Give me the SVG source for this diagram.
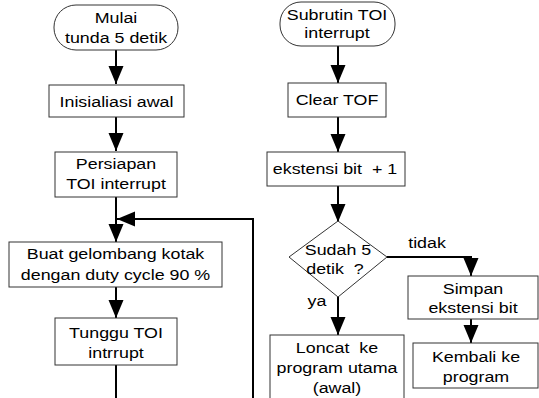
<svg xmlns="http://www.w3.org/2000/svg" width="539" height="398" viewBox="0 0 539 398">
<defs>
<style>
.box{fill:#fff;stroke:#333;stroke-width:1}
.t{font-family:"Liberation Sans",Arial,sans-serif;font-size:15px;fill:#000;text-anchor:middle}
.c{fill:none;stroke:#000;stroke-width:2}
.ah{fill:#000;stroke:none}
</style>
<marker id="arr" markerUnits="userSpaceOnUse" markerWidth="18" markerHeight="16" viewBox="0 0 18 16" refX="18" refY="8" orient="auto">
<path d="M0,0.5 L18,8 L0,15.5 Z" class="ah"/>
</marker>
</defs>
<rect width="539" height="398" fill="#fff"/>
<g id="connectors">
<path class="c" d="M116,50 V84" marker-end="url(#arr)"/>
<path class="c" d="M116,117 V151" marker-end="url(#arr)"/>
<path class="c" d="M116,197 V242" marker-end="url(#arr)"/>
<path class="c" d="M116,287 V318" marker-end="url(#arr)"/>
<path class="c" d="M116,365 V398"/>
<path class="c" d="M253,398 V219 H117" marker-end="url(#arr)"/>
<path class="c" d="M338,46 V83" marker-end="url(#arr)"/>
<path class="c" d="M338,117 V152" marker-end="url(#arr)"/>
<path class="c" d="M338,186 V222" marker-end="url(#arr)"/>
<path class="c" d="M387,257 H471 V276" marker-end="url(#arr)"/>
<path class="c" d="M471,319 V343" marker-end="url(#arr)"/>
<path class="c" d="M338,297 V335" marker-end="url(#arr)"/>
<text class="t" transform="translate(427,248) scale(1.19,1)">tidak</text>
<text class="t" transform="translate(317,306) scale(1.19,1)">ya</text>
</g>
<g id="mulai">
<rect class="box" x="54" y="5" width="124" height="45" rx="22" ry="22"/>
<text class="t" transform="translate(116,23) scale(1.19,1)">Mulai</text>
<text class="t" transform="translate(116,43) scale(1.19,1)">tunda 5 detik</text>
</g>
<g id="inisialisasi">
<rect class="box" x="49" y="85" width="135" height="32"/>
<text class="t" transform="translate(116.5,107) scale(1.19,1)">Inisialiasi awal</text>
</g>
<g id="persiapan">
<rect class="box" x="55" y="152" width="122" height="45"/>
<text class="t" transform="translate(116,169) scale(1.19,1)">Persiapan</text>
<text class="t" transform="translate(116,189) scale(1.19,1)">TOI interrupt</text>
</g>
<g id="buat">
<rect class="box" x="9" y="242" width="213" height="45"/>
<text class="t" transform="translate(115.5,259) scale(1.19,1)">Buat gelombang kotak</text>
<text class="t" transform="translate(115.5,280) scale(1.19,1)">dengan duty cycle 90 %</text>
</g>
<g id="tunggu">
<rect class="box" x="55" y="318" width="122" height="47"/>
<text class="t" transform="translate(116,338) scale(1.19,1)">Tunggu TOI</text>
<text class="t" transform="translate(116,358) scale(1.19,1)">intrrupt</text>
</g>
<g id="subrutin">
<rect class="box" x="280" y="2" width="115" height="44" rx="21" ry="21"/>
<text class="t" transform="translate(337,20) scale(1.19,1)">Subrutin TOI</text>
<text class="t" transform="translate(337,38) scale(1.19,1)">interrupt</text>
</g>
<g id="clear">
<rect class="box" x="288" y="83" width="98" height="34"/>
<text class="t" transform="translate(337,105) scale(1.19,1)">Clear TOF</text>
</g>
<g id="ekstensi">
<rect class="box" x="267" y="152" width="138" height="34"/>
<text class="t" transform="translate(335,174) scale(1.19,1)" xml:space="preserve">ekstensi bit  + 1</text>
</g>
<g id="sudah">
<polygon class="box" points="338,221 387,257 338,297 289,257"/>
<text class="t" transform="translate(338,255) scale(1.19,1)">Sudah 5</text>
<text class="t" transform="translate(335,274) scale(1.19,1)" xml:space="preserve">detik  ?</text>
</g>
<g id="simpan">
<rect class="box" x="408" y="276" width="130" height="43"/>
<text class="t" transform="translate(473,294) scale(1.19,1)">Simpan</text>
<text class="t" transform="translate(473,313) scale(1.19,1)">ekstensi bit</text>
</g>
<g id="kembali">
<rect class="box" x="413" y="343" width="125" height="45"/>
<text class="t" transform="translate(476,362) scale(1.19,1)">Kembali ke</text>
<text class="t" transform="translate(476,382) scale(1.19,1)">program</text>
</g>
<g id="loncat">
<rect class="box" x="270" y="335" width="134" height="70"/>
<text class="t" transform="translate(337,353) scale(1.19,1)" xml:space="preserve">Loncat  ke</text>
<text class="t" transform="translate(337,373) scale(1.19,1)">program utama</text>
<text class="t" transform="translate(337,393) scale(1.19,1)">(awal)</text>
</g>
</svg>
